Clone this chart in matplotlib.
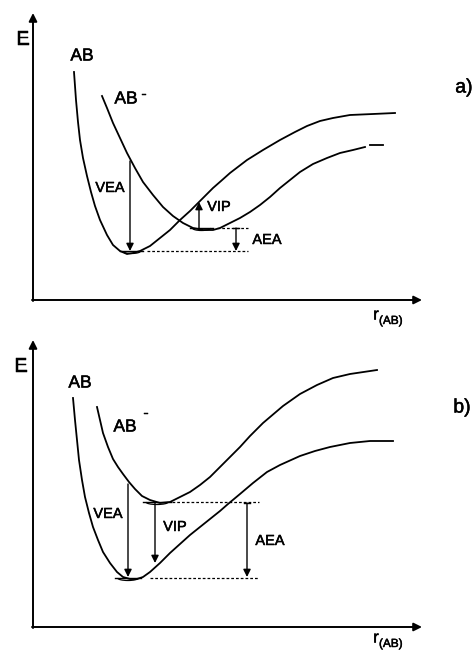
# Potential energy curves of AB and AB-, two cases (a) and (b)

import matplotlib
matplotlib.use("Agg")
from matplotlib import pyplot as plt
from matplotlib.patches import Arc
import matplotlib.patheffects as pe

plt.rcParams['font.family'] = ['Liberation Sans', 'DejaVu Sans']

# ---- panel a ----
a_ab_r = [41, 43, 45, 47, 50, 54, 58, 62, 67, 74, 80, 87, 94, 100, 107, 117, 127, 137, 147, 157, 164,
          172, 180, 188, 197, 214, 230, 247, 262, 274, 287, 300, 317, 340, 362]
a_ab_e = [228, 200, 178, 160, 142, 124, 108, 94, 80, 65, 55, 49, 46, 47, 49, 54, 62, 70, 80, 89, 96,
          104, 112, 119, 127, 140, 150, 160, 168, 174, 179, 182, 185, 186, 187]
a_abm_r = [69, 74, 80, 87, 94, 102, 110, 120, 130, 140, 150, 160, 170, 180, 187, 197, 207, 217, 227,
           237, 247, 257, 267, 280, 294, 307, 320, 332]
a_abm_e = [204, 192, 177, 162, 147, 132, 118, 105, 93, 84, 77, 72, 70, 70, 72, 77, 82, 88, 95,
           103, 112, 120, 128, 136, 142, 147, 150, 153]
a_tail_r = [337, 350]
a_tail_e = [155, 155]
a_levels = {"AB": (49, 87, 110, 114), "AB-": (72, 157, 180, 184)}   # E, r start, r end, dash start
a_dash_end = 215
a_vea = (97, 139, 49)
a_vip = (166, 72, 98)
a_aea = (203, 72, 49)

# ---- panel b ----
b_ab_r = [40, 42, 44, 46, 49, 52, 56, 60, 65, 70, 77, 84, 90, 97, 104, 110, 117, 127, 137, 147,
          157, 167, 177, 187, 195, 207, 220, 234, 247, 267, 282, 297, 317, 337, 360]
b_ab_e = [229, 207, 187, 167, 147, 130, 114, 100, 87, 75, 64, 55, 50, 48, 48, 50, 55, 64, 74, 83,
          92, 100, 108, 116, 123, 133, 144, 155, 162, 171, 176, 180, 184, 186, 186]
b_abm_r = [64, 67, 70, 75, 80, 85, 90, 96, 102, 109, 117, 127, 137, 147, 157, 167, 177, 187, 197, 207,
           217, 230, 250, 267, 284, 300, 317, 344]
b_abm_e = [220, 207, 194, 180, 168, 160, 153, 145, 138, 131, 127, 124, 125, 130, 135, 142, 150, 160, 170, 180,
           191, 204, 221, 233, 242, 249, 253, 257]
b_levels = {"AB": (49, 82, 108, 117), "AB-": (125, 110, 138, 139)}
b_dash_end = 226
b_vea = (95, 143, 50)
b_vip = (122, 125, 64)
b_aea = (214, 124, 50)

W, H = 476, 652
AXW, AXH = 389, 287

fig = plt.figure(figsize=(W / 100, H / 100), dpi=100)
thick = [pe.withStroke(linewidth=0.35, foreground='k')]


def arrow(ax, r, e0, e1, tick=False):
    ax.annotate("", xy=(r, e1), xytext=(r, e0),
                arrowprops=dict(arrowstyle='-|>', color='k', lw=1.0, mutation_scale=11,
                                shrinkA=0, shrinkB=0), annotation_clip=False)
    if tick:
        ax.plot([r - 3, r + 3], [e0, e0], c='k', lw=1.0)


def level(ax, e, r0, r1, rd, rend):
    ax.plot([r0, r1], [e, e], c='k', lw=1.0)
    ax.add_patch(Arc(((r0 + r1) / 2, e), (r1 - r0) * 0.8, 5, theta1=180, theta2=360, lw=0.9, color='k'))
    ax.plot([rd, rend], [e, e], c='k', lw=0.9, ls=(0, (2.2, 1.6)))


def label(ax, xy, s, size, **kw):
    ax.text(xy[0], xy[1], s, fontsize=size, va='center', clip_on=False, path_effects=thick,
            ha=kw.pop('ha', 'center'), **kw)


def panel(oy, ab_r, ab_e, abm_r, abm_e, levels, dash_end, vea, vip, aea, tag, t):
    ax = fig.add_axes([33 / W, (H - oy) / H, AXW / W, AXH / H])
    ax.set_xlim(0, AXW)
    ax.set_ylim(0, AXH)
    ax.axis('off')

    # axes with arrows
    ax.annotate("", xy=(0, AXH), xytext=(0, -1),
                arrowprops=dict(arrowstyle='-|>', color='k', lw=1.4, mutation_scale=12,
                                shrinkA=0, shrinkB=0), annotation_clip=False)
    ax.annotate("", xy=(AXW, 0), xytext=(-1, 0),
                arrowprops=dict(arrowstyle='-|>', color='k', lw=1.4, mutation_scale=12,
                                shrinkA=0, shrinkB=0), annotation_clip=False)

    ax.plot(ab_r, ab_e, c='k', lw=1.3, solid_joinstyle='round')
    ax.plot(abm_r, abm_e, c='k', lw=1.3, solid_joinstyle='round')

    for k in levels:
        e, r0, r1, rd = levels[k]
        level(ax, e, r0, r1, rd, dash_end)

    arrow(ax, *vea)
    arrow(ax, *vip)
    arrow(ax, *aea, tick=True)

    label(ax, t["E"], "E", 14)
    label(ax, t["AB"], "AB", 12.5)
    label(ax, t["ABm"], "AB", 12.5)
    label(ax, t["minus"], "-", 10)
    label(ax, t["VEA"], "VEA", 10.5)
    label(ax, t["VIP"], "VIP", 10.5)
    label(ax, t["AEA"], "AEA", 10.5)
    label(ax, t["tag"], tag, 14)
    label(ax, t["r"], "r", 12)
    label(ax, t["rsub"], "(AB)", 8.5, ha='left')
    return ax


txt_a = {"E": (-10, 260), "AB": (49, 244), "ABm": (93, 201), "minus": (111, 206),
         "VEA": (77, 112), "VIP": (186, 93), "AEA": (234, 60), "tag": (431, 212),
         "r": (343, -15), "rsub": (346, -21)}
txt_b = {"E": (-12, 260), "AB": (47, 244), "ABm": (92, 200), "minus": (113, 214),
         "VEA": (75, 113), "VIP": (142, 100), "AEA": (237, 86), "tag": (429, 219),
         "r": (343, -11), "rsub": (346, -17)}

ax_a = panel(300, a_ab_r, a_ab_e, a_abm_r, a_abm_e, a_levels, a_dash_end, a_vea, a_vip, a_aea, "a)", txt_a)
ax_a.plot(a_tail_r, a_tail_e, c='k', lw=1.3)
panel(627, b_ab_r, b_ab_e, b_abm_r, b_abm_e, b_levels, b_dash_end, b_vea, b_vip, b_aea, "b)", txt_b)

fig.savefig("out.png", dpi=100)
